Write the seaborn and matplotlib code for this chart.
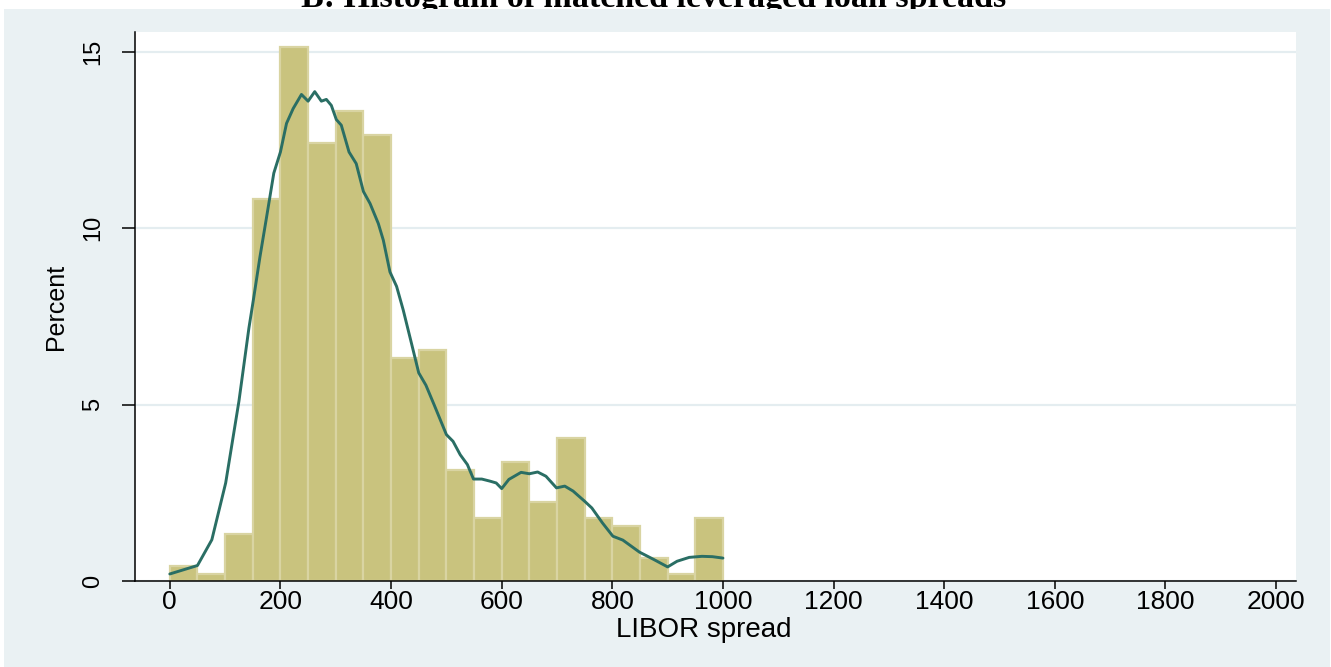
import numpy as np
import pandas as pd
import matplotlib
matplotlib.use("Agg")
import matplotlib.pyplot as plt
from matplotlib.patches import Rectangle
import seaborn as sns

# bins of 50 bp, percent of loans in each
bin_start = [0, 50, 100, 150, 200, 250, 300, 350, 400, 450,
             500, 550, 600, 650, 700, 750, 800, 850, 900, 950]
pct = [0.42, 0.19, 1.32, 10.82, 15.13, 12.41, 13.33, 12.64, 6.31, 6.54,
       3.14, 1.78, 3.37, 2.24, 4.05, 1.78, 1.55, 0.64, 0.19, 1.78]

# kernel density overlay (in percent units)
kde_x = [0, 25, 50, 76, 101, 125, 143, 151, 163, 175, 188, 200, 211, 223, 238,
         250, 262, 274, 283, 292, 301, 310, 324, 337, 350, 362, 377, 386, 398,
         410, 422, 437, 450, 463, 478, 500, 512, 525, 538, 549, 564, 579, 590,
         600, 613, 635, 650, 665, 680, 699, 714, 729, 750, 763, 782, 801, 819,
         834, 849, 875, 900, 917, 939, 962, 981, 1000]
kde_y = [0.2, 0.32, 0.44, 1.17, 2.78, 5.1, 7.17, 7.96, 9.19, 10.32, 11.56, 12.16,
         12.97, 13.39, 13.79, 13.6, 13.87, 13.6, 13.65, 13.48, 13.08, 12.92,
         12.16, 11.83, 11.04, 10.7, 10.13, 9.66, 8.76, 8.35, 7.68, 6.73, 5.9,
         5.55, 4.99, 4.15, 3.96, 3.58, 3.3, 2.89, 2.89, 2.83, 2.78, 2.62, 2.88,
         3.08, 3.04, 3.09, 2.97, 2.64, 2.69, 2.55, 2.26, 2.07, 1.65, 1.27, 1.16,
         0.99, 0.82, 0.61, 0.4, 0.56, 0.67, 0.7, 0.69, 0.65]

xticks = [0, 200, 400, 600, 800, 1000, 1200, 1400, 1600, 1800, 2000]
yticks = [0, 5, 10, 15]

BG = "#EAF1F3"
KHAKI = "#C9C37E"
KHAKI_EDGE = "#D9D4A2"
TEAL = "#2A6E64"

sns.set_style("white")
plt.rcParams['font.family'] = ['Liberation Sans', 'DejaVu Sans']
plt.rcParams['text.color'] = 'black'
plt.rcParams['axes.labelcolor'] = 'black'
plt.rcParams['xtick.color'] = 'black'
plt.rcParams['ytick.color'] = 'black'

fig = plt.figure(figsize=(13.31, 6.67), dpi=100, facecolor="white")
fig.patches.append(Rectangle((4 / 1331, 0), 1326 / 1331, 1 - 9 / 667,
                             transform=fig.transFigure, facecolor=BG,
                             edgecolor="none", zorder=1))
# title sits mostly above the top edge, as in the source image
fig.text(0.4914, 1 - 7 / 667, "B: Histogram of matched leveraged loan spreads",
         ha="center", va="baseline", fontsize=24.5, fontweight="bold",
         color="black", family=["Liberation Serif", "DejaVu Serif"], zorder=0)

ax = fig.add_axes([0.1014, 0.1289, 0.8723, 0.8231])
ax.set_zorder(2)
ax.set_facecolor("white")

bars = pd.DataFrame({"left": bin_start, "pct": pct})
bars["mid"] = bars["left"] + 25
sns.histplot(data=bars, x="mid", weights="pct", binwidth=50, binrange=(0, 1000),
             color=KHAKI, edgecolor=KHAKI_EDGE, linewidth=1.6, alpha=1, ax=ax,
             zorder=2)
sns.lineplot(x=kde_x, y=kde_y, color=TEAL, linewidth=2.1, ax=ax, zorder=3)

ax.set_xlim(-63, 2036)
ax.set_ylim(0, 15.56)
ax.set_xticks(xticks)
ax.set_xticklabels([str(t) for t in xticks])
ax.set_yticks(yticks)
ax.set_yticklabels([str(t) for t in yticks], rotation=90, va="center")

ax.set_axisbelow(True)
ax.yaxis.grid(True, color="#E4EDF0", linewidth=1.6)
ax.xaxis.grid(False)

for s in ["top", "right"]:
    ax.spines[s].set_visible(False)
for s in ["left", "bottom"]:
    ax.spines[s].set_color("black")
    ax.spines[s].set_linewidth(1.1)

ax.tick_params(axis="x", length=5.8, width=1.1, color="black", labelsize=19,
               labelcolor="black", pad=1, direction="out", bottom=True)
ax.tick_params(axis="y", length=9.4, width=1.1, color="black", labelsize=17,
               labelcolor="black", pad=13, direction="out", left=True)

ax.set_xlabel("LIBOR spread", fontsize=20, va="top", color="black")
ax.xaxis.set_label_coords(0.49, -0.066)
ax.set_ylabel("Percent", fontsize=18, va="center", color="black")
ax.yaxis.set_label_coords(-0.068, 0.5)

fig.savefig("out.png", dpi=100, facecolor="white")
